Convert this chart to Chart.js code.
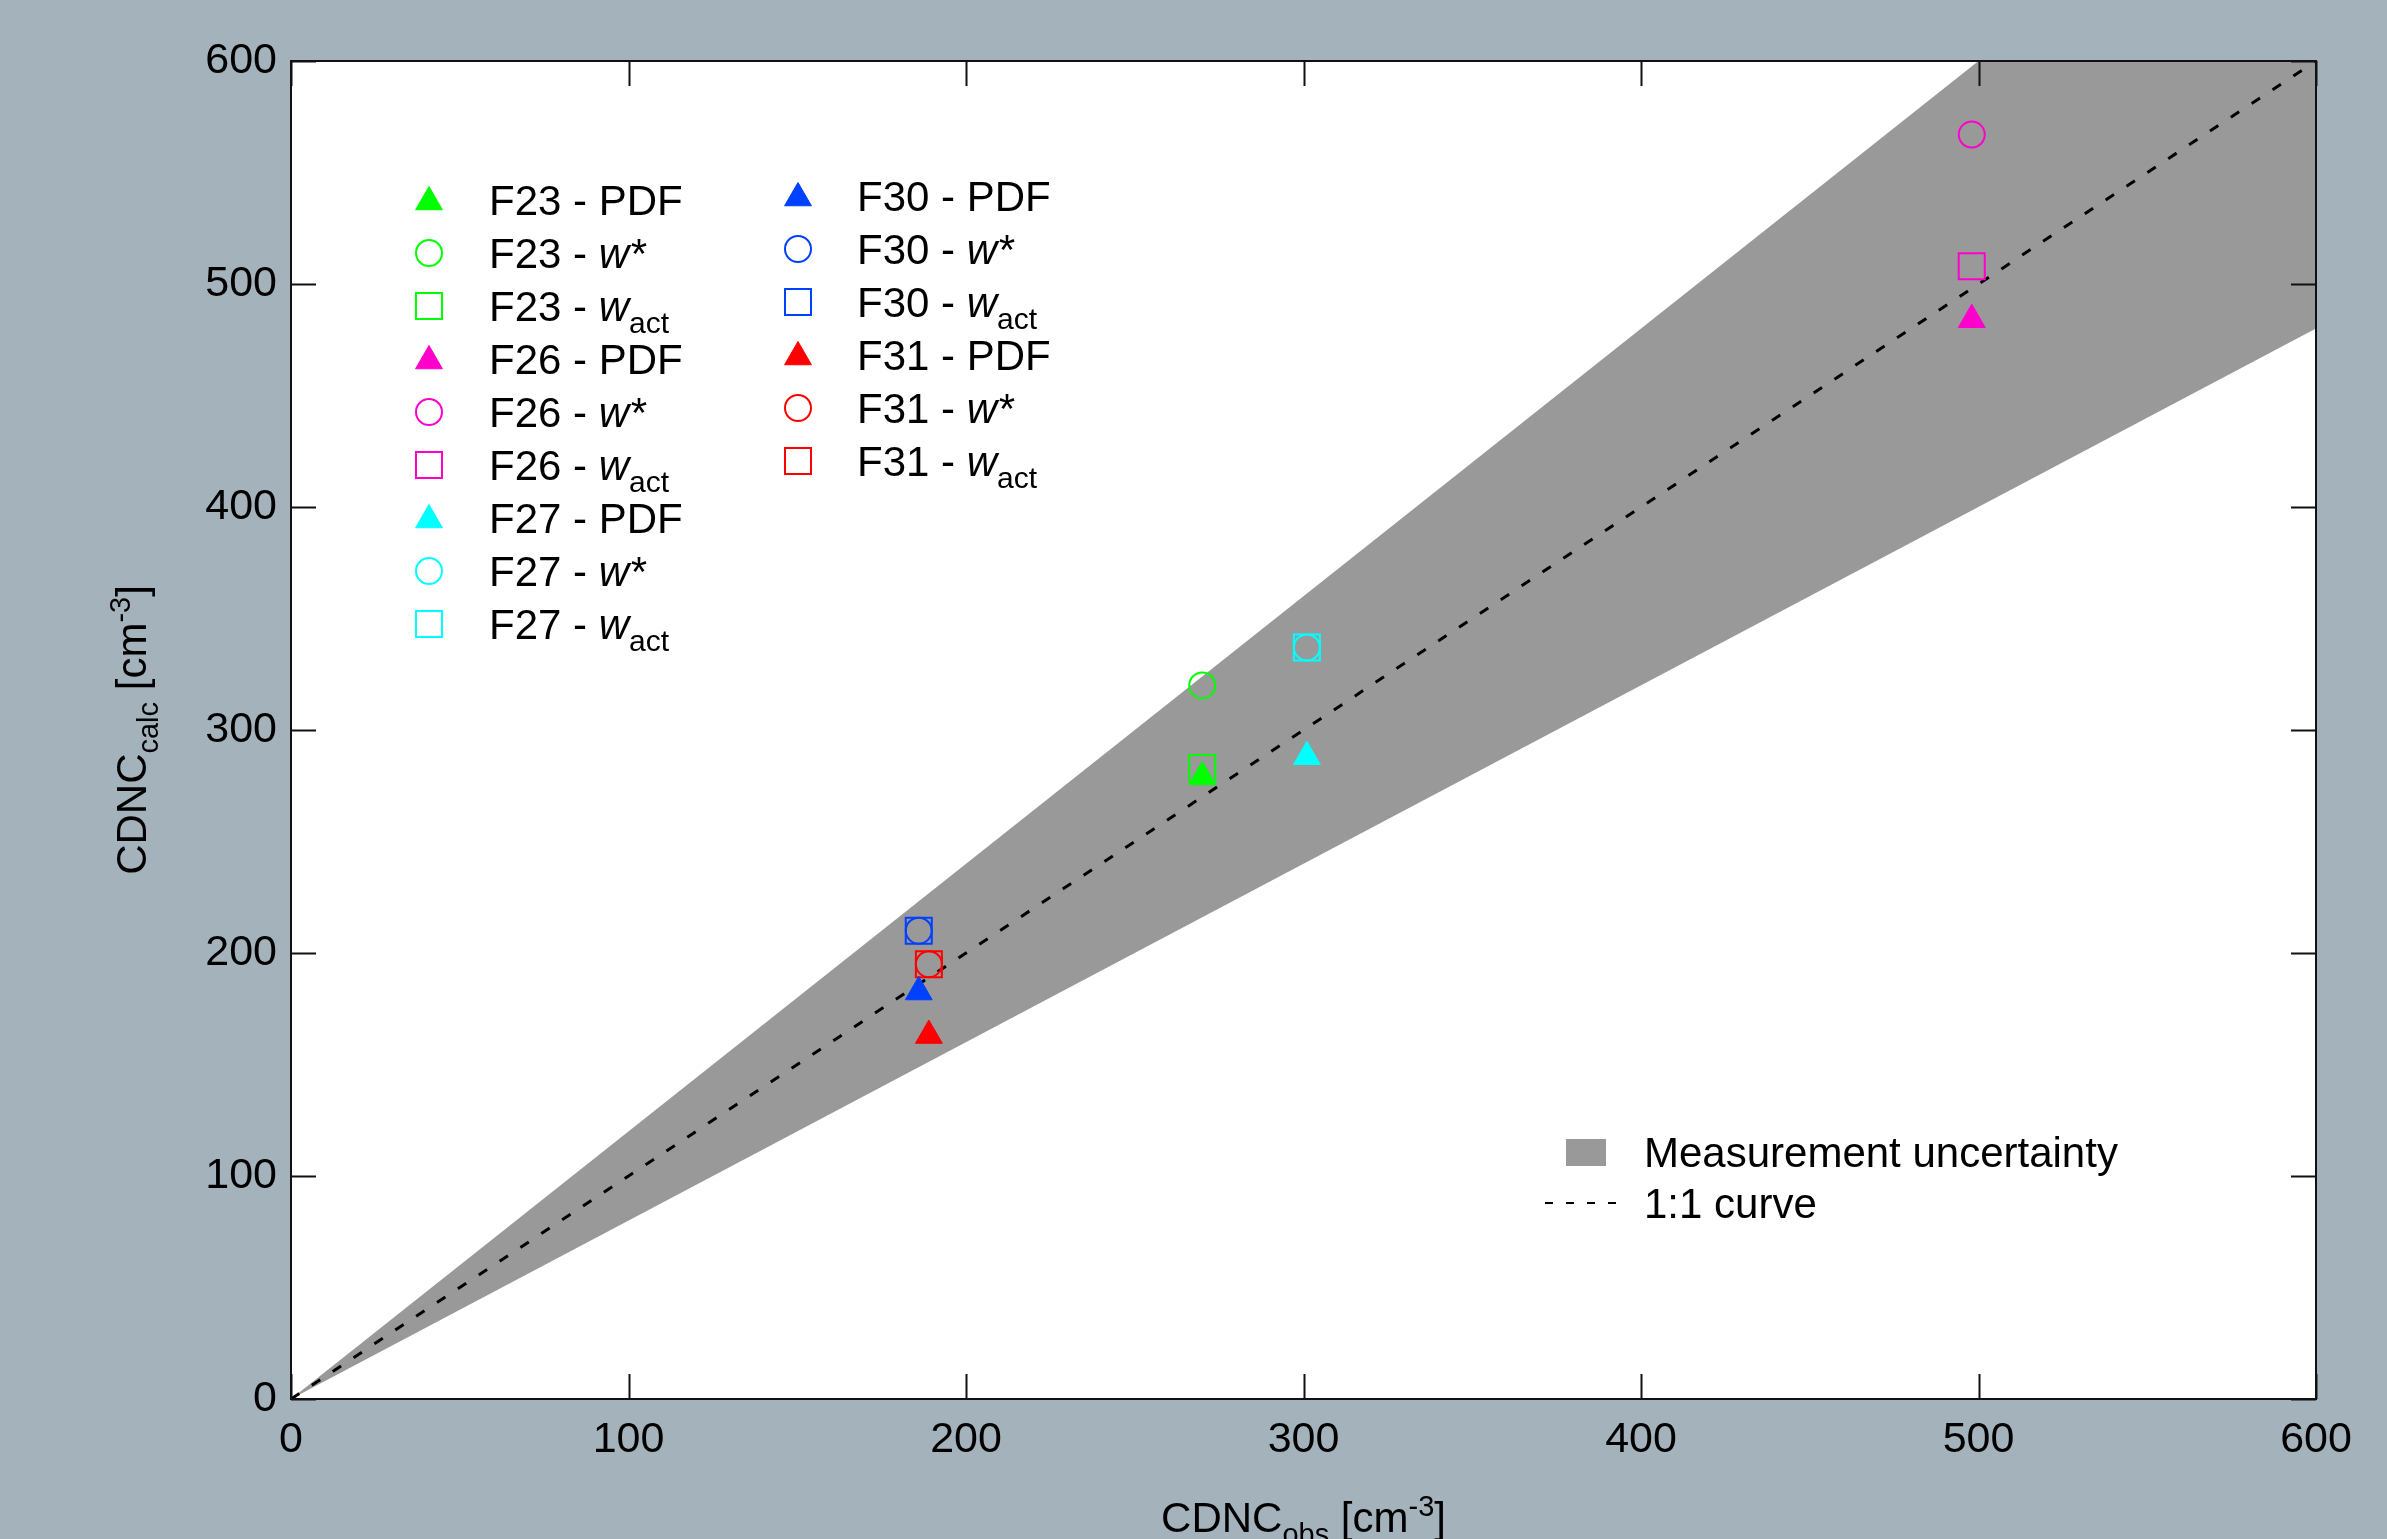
<!DOCTYPE html>
<html><head><meta charset="utf-8">
<script src="https://cdn.jsdelivr.net/npm/chart.js@4.4.0/dist/chart.umd.min.js"></script>
<style>html,body{margin:0;padding:0;background:#a4b2bc;overflow:hidden}canvas{display:block}</style>
</head><body>
<canvas id="c" width="2387" height="1539"></canvas>
<script>
// ---------------- data ----------------
const flights   = ['F23', 'F26', 'F27', 'F30', 'F31'];
const obsCDNC   = [270, 498, 301, 186, 189];      // CDNC_obs [cm-3]
const calcPDF   = [279, 484, 288, 182.5, 163];    // CDNC_calc, PDF method
const calcWstar = [320, 567, 337, 210, 195];      // CDNC_calc, w* method
const calcWact  = [283, 508, 337, 210, 195];      // CDNC_calc, w_act method
const bandX     = [0, 600];                       // measurement uncertainty (+/-20%)
const bandUpper = [0, 720];
const bandLower = [0, 480];
const lineX     = [0, 600];                       // 1:1 curve
const lineY     = [0, 600];
const axisMin = 0, axisMax = 600, axisStep = 100;

// ---------------- styles ----------------
const flightColors = ['#00ff00', '#ff00cc', '#00ffff', '#0040ff', '#ff0000'];
const FONT = "'Liberation Sans', Arial, sans-serif";
const BG = '#a4b2bc';
const BAND = '#999999';

const methodDefs = [
  {key: 'PDF',  values: calcPDF,   style: 'triangle', radius: 15.5, filled: true},
  {key: 'w*',   values: calcWstar, style: 'circle',   radius: 13,   filled: false},
  {key: 'wact', values: calcWact,  style: 'rect',     radius: 18.4, filled: false}
];

const datasets = [
  {type: 'line', label: 'upper', data: bandX.map((x, i) => ({x, y: bandUpper[i]})),
   borderWidth: 0, pointRadius: 0, fill: '+1', backgroundColor: BAND, borderColor: BAND, clip: 0, order: 3},
  {type: 'line', label: 'lower', data: bandX.map((x, i) => ({x, y: bandLower[i]})),
   borderWidth: 0, pointRadius: 0, fill: false, borderColor: BAND, clip: 0, order: 3},
  {type: 'line', label: '1:1', data: lineX.map((x, i) => ({x, y: lineY[i]})),
   borderWidth: 3, borderColor: '#000', borderDash: [10, 15], pointRadius: 0, fill: false, clip: 0, order: 2}
];
flights.forEach((f, fi) => {
  methodDefs.forEach(m => {
    datasets.push({
      type: 'scatter', label: f + ' - ' + m.key,
      data: [{x: obsCDNC[fi], y: m.values[fi]}],
      pointStyle: m.style, pointRadius: m.radius, pointHoverRadius: m.radius,
      borderWidth: m.filled ? 1 : 2, borderColor: flightColors[fi],
      backgroundColor: m.filled ? flightColors[fi] : 'rgba(0,0,0,0)', order: 1
    });
  });
});

// ---------------- helpers for drawing rich text ----------------
function drawSegments(ctx, segs, x, y, align) {
  let total = 0;
  segs.forEach(s => { ctx.font = (s.italic ? 'italic ' : '') + s.size + 'px ' + FONT; s.w = ctx.measureText(s.t).width; total += s.w; });
  let cx = align === 'center' ? x - total / 2 : x;
  ctx.textAlign = 'left'; ctx.textBaseline = 'alphabetic'; ctx.fillStyle = '#000';
  segs.forEach(s => { ctx.font = (s.italic ? 'italic ' : '') + s.size + 'px ' + FONT; ctx.fillText(s.t, cx, y + (s.dy || 0)); cx += s.w; });
}
function drawMarker(ctx, style, x, y, color, r, filled) {
  ctx.save();
  ctx.strokeStyle = color; ctx.fillStyle = color; ctx.lineWidth = filled ? 1 : 2;
  ctx.beginPath();
  if (style === 'triangle') {
    ctx.moveTo(x, y - r);
    ctx.lineTo(x + Math.sin(2 * Math.PI / 3) * r, y + r / 2);
    ctx.lineTo(x - Math.sin(2 * Math.PI / 3) * r, y + r / 2);
    ctx.closePath(); ctx.fill(); ctx.stroke();
  } else if (style === 'circle') {
    ctx.arc(x, y, r, 0, Math.PI * 2); ctx.stroke();
  } else {
    const s = Math.SQRT1_2 * r; ctx.rect(x - s, y - s, 2 * s, 2 * s); ctx.stroke();
  }
  ctx.restore();
}
function labelSegs(flight, key) {
  const base = [{t: flight + ' - ', size: 42}];
  if (key === 'PDF') return base.concat([{t: 'PDF', size: 42}]);
  if (key === 'w*') return base.concat([{t: 'w*', size: 42, italic: true}]);
  return base.concat([{t: 'w', size: 42, italic: true}, {t: 'act', size: 30, dy: 12}]);
}

const decor = {
  id: 'decor',
  beforeDraw(chart) {
    const {ctx, chartArea: a} = chart;
    ctx.save();
    ctx.fillStyle = BG; ctx.fillRect(0, 0, chart.width, chart.height);
    ctx.fillStyle = '#ffffff'; ctx.fillRect(a.left, a.top, a.right - a.left, a.bottom - a.top);
    ctx.restore();
  },
  afterDatasetsDraw(chart) {
    const {ctx, chartArea: a, scales} = chart;
    ctx.save();
    ctx.strokeStyle = '#111'; ctx.lineWidth = 2;
    const TL = 25;
    scales.x.ticks.forEach(t => {
      const px = Math.round(scales.x.getPixelForValue(t.value)) + 0.5;
      ctx.beginPath(); ctx.moveTo(px, a.bottom); ctx.lineTo(px, a.bottom - TL);
      ctx.moveTo(px, a.top); ctx.lineTo(px, a.top + TL); ctx.stroke();
    });
    scales.y.ticks.forEach(t => {
      const py = Math.round(scales.y.getPixelForValue(t.value)) + 0.5;
      ctx.beginPath(); ctx.moveTo(a.left, py); ctx.lineTo(a.left + TL, py);
      ctx.moveTo(a.right, py); ctx.lineTo(a.right - TL, py); ctx.stroke();
    });
    ctx.lineWidth = 2; ctx.strokeStyle = '#111';
    ctx.strokeRect(a.left, a.top, a.right - a.left, a.bottom - a.top);

    const cols = [{fl: [0, 1, 2], mx: 429, tx: 489, y0: 200}, {fl: [3, 4], mx: 798, tx: 857, y0: 196}];
    const rowH = 53;
    cols.forEach(c => {
      let row = 0;
      c.fl.forEach(fi => {
        methodDefs.forEach(m => {
          const y = c.y0 + row * rowH;
          drawMarker(ctx, m.style, c.mx, y + (m.style === 'triangle' ? 2 : 0), flightColors[fi], m.radius, m.filled);
          drawSegments(ctx, labelSegs(flights[fi], m.key), c.tx, y + 15, 'left');
          row++;
        });
      });
    });
    ctx.fillStyle = BAND; ctx.fillRect(1566, 1139, 40, 27);
    drawSegments(ctx, [{t: 'Measurement uncertainty', size: 42}], 1644, 1167, 'left');
    ctx.strokeStyle = '#000'; ctx.lineWidth = 2; ctx.setLineDash([8, 13]);
    ctx.beginPath(); ctx.moveTo(1545, 1203); ctx.lineTo(1620, 1203); ctx.stroke(); ctx.setLineDash([]);
    drawSegments(ctx, [{t: '1:1 curve', size: 42}], 1644, 1218, 'left');

    const cx = (a.left + a.right) / 2;
    drawSegments(ctx, [{t: 'CDNC', size: 42}, {t: 'obs', size: 29, dy: 12}, {t: ' [cm', size: 42}, {t: '-3', size: 29, dy: -16}, {t: ']', size: 42}], cx, 1532, 'center');
    const cy = (a.top + a.bottom) / 2;
    ctx.save(); ctx.translate(146, cy); ctx.rotate(-Math.PI / 2);
    drawSegments(ctx, [{t: 'CDNC', size: 42}, {t: 'calc', size: 29, dy: 12}, {t: ' [cm', size: 42}, {t: '-3', size: 29, dy: -16}, {t: ']', size: 42}], 0, 0, 'center');
    ctx.restore();
    ctx.restore();
  }
};

new Chart(document.getElementById('c'), {
  data: {datasets},
  options: {
    responsive: false, devicePixelRatio: 1, animation: false,
    layout: {padding: {top: 61, right: 71, left: 0, bottom: 0}},
    plugins: {legend: {display: false}, tooltip: {enabled: false}},
    events: [],
    scales: {
      x: {type: 'linear', min: axisMin, max: axisMax,
          grid: {display: false, drawTicks: false}, border: {display: false},
          ticks: {stepSize: axisStep, padding: 15, color: '#000', font: {family: FONT, size: 43}, maxRotation: 0},
          afterFit: s => { s.height = 140; }},
      y: {type: 'linear', min: axisMin, max: axisMax,
          grid: {display: false, drawTicks: false}, border: {display: false},
          ticks: {stepSize: axisStep, padding: 14, color: '#000', font: {family: FONT, size: 43}},
          afterFit: s => { s.width = 291; }}
    }
  },
  plugins: [decor]
});
</script>
</body></html>
